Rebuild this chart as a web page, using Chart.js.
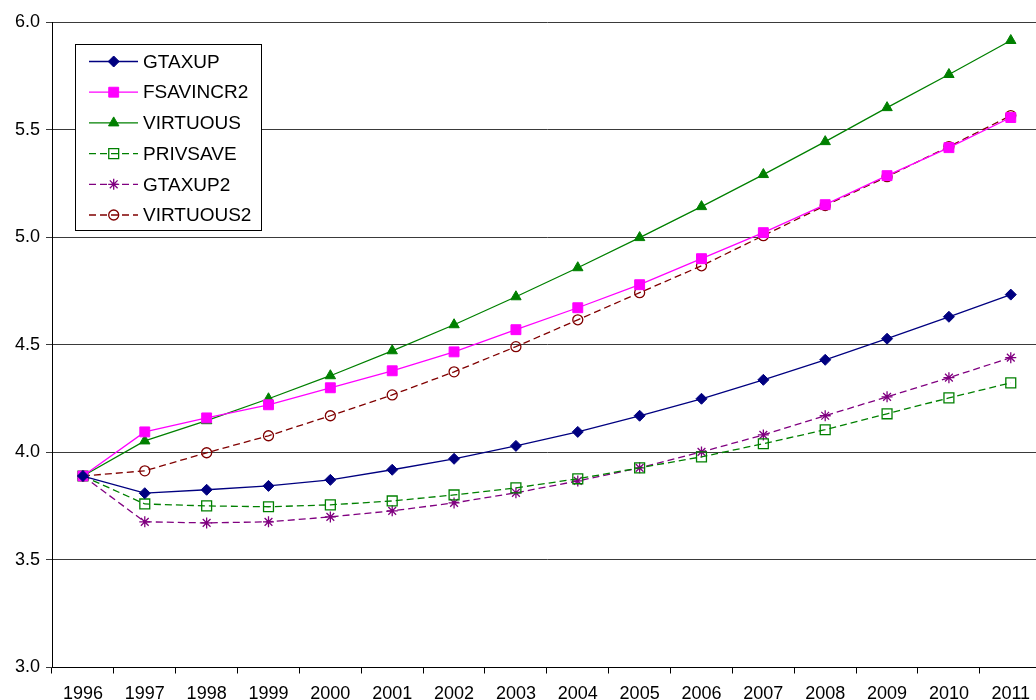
<!DOCTYPE html>
<html>
<head>
<meta charset="utf-8">
<script src="https://cdn.jsdelivr.net/npm/chart.js@4.4.0/dist/chart.umd.min.js"></script>
<style>
  html, body { margin: 0; padding: 0; background: #fff; overflow: hidden; }
  #wrap { width: 1050px; height: 700px; }
</style>
</head>
<body>
<div id="wrap"><canvas id="chart" width="1050" height="700"></canvas></div>
<script>
// Chart data
const years = ['1996', '1997', '1998', '1999', '2000', '2001', '2002', '2003', '2004', '2005', '2006', '2007', '2008', '2009', '2010', '2011'];
const gtaxup    = [3.89, 3.81, 3.826, 3.844, 3.872, 3.919, 3.970, 4.030, 4.095, 4.170, 4.249, 4.337, 4.430, 4.528, 4.630, 4.733];
const fsavincr2 = [3.89, 4.095, 4.160, 4.221, 4.300, 4.379, 4.467, 4.570, 4.672, 4.779, 4.900, 5.021, 5.151, 5.286, 5.416, 5.556];
const virtuous  = [3.89, 4.053, 4.147, 4.249, 4.356, 4.472, 4.593, 4.723, 4.858, 4.998, 5.142, 5.291, 5.444, 5.602, 5.756, 5.914];
const privsave  = [3.89, 3.760, 3.751, 3.747, 3.756, 3.774, 3.802, 3.835, 3.877, 3.928, 3.979, 4.040, 4.105, 4.179, 4.253, 4.323];
const gtaxup2   = [3.89, 3.677, 3.672, 3.677, 3.700, 3.728, 3.765, 3.812, 3.867, 3.928, 4.002, 4.081, 4.170, 4.258, 4.347, 4.440];
const virtuous2 = [3.89, 3.914, 3.998, 4.077, 4.170, 4.267, 4.374, 4.491, 4.616, 4.742, 4.867, 5.007, 5.147, 5.281, 5.421, 5.565];
const yTicks = [3.0, 3.5, 4.0, 4.5, 5.0, 5.5, 6.0];

const FONT = '"Liberation Sans", Arial, sans-serif';

function series(label, data, color, style, radius, dashed, open) {
  return {
    label: label,
    data: data,
    borderColor: color,
    backgroundColor: color,
    borderWidth: 1.3,
    borderDash: dashed ? [7, 4] : [],
    pointStyle: style,
    pointRadius: radius,
    pointHoverRadius: radius,
    pointBorderColor: color,
    pointBackgroundColor: open ? 'rgba(0,0,0,0)' : color,
    pointBorderWidth: open ? 1.3 : 1,
    tension: 0,
    fill: false
  };
}

// legend drawn inside the plot, like the original
const boxLegend = {
  id: 'boxLegend',
  afterDraw(chart) {
    const ctx = chart.ctx;
    const left = 75, top = 44, w = 187, h = 187;
    ctx.save();
    ctx.fillStyle = '#fff';
    ctx.fillRect(left, top, w, h);
    ctx.strokeStyle = '#000';
    ctx.lineWidth = 1;
    ctx.strokeRect(left + 0.5, top + 0.5, w - 1, h - 1);
    ctx.font = '19px ' + FONT;
    ctx.textBaseline = 'middle';
    chart.data.datasets.forEach((ds, i) => {
      const y = 61.5 + i * 30.7;
      ctx.save();
      ctx.strokeStyle = ds.borderColor;
      ctx.lineWidth = ds.borderWidth;
      ctx.setLineDash(ds.borderDash);
      ctx.beginPath();
      ctx.moveTo(89, y);
      ctx.lineTo(138, y);
      ctx.stroke();
      ctx.setLineDash([]);
      ctx.fillStyle = ds.pointBackgroundColor;
      ctx.strokeStyle = ds.pointBorderColor;
      ctx.lineWidth = ds.pointBorderWidth;
      Chart.helpers.drawPoint(ctx, {
        pointStyle: ds.pointStyle,
        radius: ds.pointRadius,
        rotation: 0,
        borderWidth: ds.pointBorderWidth
      }, 113.7, y);
      ctx.restore();
      ctx.fillStyle = '#000';
      ctx.fillText(ds.label, 143, y + 1);
    });
    ctx.restore();
  }
};

new Chart(document.getElementById('chart').getContext('2d'), {
  type: 'line',
  data: {
    labels: years,
    datasets: [
      series('GTAXUP', gtaxup, '#000080', 'rectRot', 5.5, false, false),
      series('FSAVINCR2', fsavincr2, '#ff00ff', 'rect', 7, false, false),
      series('VIRTUOUS', virtuous, '#008000', 'triangle', 6, false, false),
      series('PRIVSAVE', privsave, '#008000', 'rect', 7, true, true),
      series('GTAXUP2', gtaxup2, '#800080', 'star', 5.5, true, true),
      series('VIRTUOUS2', virtuous2, '#800000', 'circle', 5, true, true)
    ]
  },
  options: {
    responsive: false,
    animation: false,
    layout: { padding: { top: 22, left: 0, right: 2, bottom: 0 } },
    plugins: {
      legend: { display: false },
      tooltip: { enabled: false }
    },
    scales: {
      x: {
        type: 'category',
        offset: true,
        grid: { offset: true, drawOnChartArea: false, drawTicks: true, tickLength: 6, color: '#000' },
        border: { color: '#000', width: 1 },
        ticks: { color: '#000', font: { family: FONT, size: 18 }, padding: 10, maxRotation: 0, autoSkip: false },
        afterFit(scale) { scale.height = 32.5; }
      },
      y: {
        min: 3.0,
        max: 6.0,
        afterBuildTicks(scale) { scale.ticks = yTicks.map(v => ({ value: v })); },
        grid: { color: '#3a3a3a', lineWidth: 1, tickLength: 6 },
        border: { color: '#000', width: 1 },
        ticks: {
          color: '#000',
          font: { family: FONT, size: 18 },
          padding: 6,
          callback: v => v.toFixed(1)
        },
        afterFit(scale) { scale.width = 52; }
      }
    }
  },
  plugins: [boxLegend]
});
</script>
</body>
</html>
